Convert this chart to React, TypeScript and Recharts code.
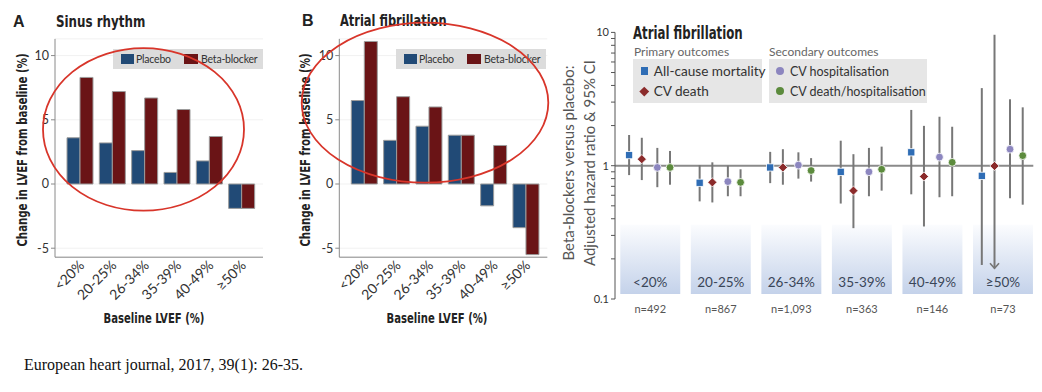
import React from 'react';
import {
  BarChart, Bar, XAxis, YAxis, CartesianGrid, Legend,
  ScatterChart, Scatter, ErrorBar, ReferenceArea, ReferenceLine,
} from 'recharts';

// ---------- data: LVEF change (panels A & B) ----------
const lvefCategories = ['<20%', '20-25%', '26-34%', '35-39%', '40-49%', '≥50%'];
const sinusPlacebo = [3.6, 3.2, 2.6, 0.9, 1.8, -1.9];
const sinusBeta = [8.3, 7.2, 6.7, 5.8, 3.7, -1.9];
const afPlacebo = [6.5, 3.4, 4.5, 3.8, -1.7, -3.4];
const afBeta = [11.1, 6.8, 6.0, 3.8, 3.0, -5.5];
const barTicks = [-5, 0, 5, 10];

// ---------- data: hazard ratios (panel C) ----------
const hrCategories = ['<20%', '20-25%', '26-34%', '35-39%', '40-49%', '≥50%'];
const nLabels = ['n=492', 'n=867', 'n=1,093', 'n=363', 'n=146', 'n=73'];
const allCauseHR = [1.2, 0.745, 0.97, 0.9, 1.26, 0.84];
const allCauseLo = [0.85, 0.54, 0.74, 0.52, 0.61, 0.18];
const allCauseHi = [1.7, 1.01, 1.27, 1.54, 2.62, 3.82];
const cvDeathHR = [1.12, 0.75, 0.97, 0.65, 0.83, 0.995];
const cvDeathLo = [0.78, 0.53, 0.72, 0.34, 0.35, 0.17];
const cvDeathHi = [1.62, 1.06, 1.33, 1.22, 1.99, 9.6];
const cvDeathArrow = [false, false, false, false, false, true];
const cvHospHR = [0.97, 0.76, 1.01, 0.9, 1.16, 1.33];
const cvHospLo = [0.69, 0.59, 0.8, 0.59, 0.58, 0.57];
const cvHospHi = [1.36, 1.0, 1.26, 1.36, 2.33, 3.15];
const cvDeathHospHR = [0.97, 0.75, 0.92, 0.94, 1.06, 1.19];
const cvDeathHospLo = [0.72, 0.59, 0.76, 0.65, 0.59, 0.51];
const cvDeathHospHi = [1.29, 0.94, 1.14, 1.39, 1.96, 2.74];
const hrMajorTicks = [0.1, 1, 10];
const hrMinorTicks = [0.2, 0.3, 0.4, 0.5, 0.6, 0.7, 0.8, 0.9, 2, 3, 4, 5, 6, 7, 8, 9];

// ---------- styles ----------
const SANS = "Lato, 'Open Sans', sans-serif";
const NARROW = "'Liberation Sans Narrow', 'DejaVu Sans Condensed', 'Arial Narrow', sans-serif";
const PLACEBO_COLOR = '#214a76';
const BETA_COLOR = '#6a1416';
const BAR_STROKE = '#9c9c9c';
const AXIS_COLOR = '#8a8a8a';
const LEGEND_BG = '#dcdcdc';
const SERIES_COLORS = ['#2f6db5', '#8b2b2b', '#8c86bf', '#5c8b3d'];
const DODGE = [-0.3, -0.12, 0.1, 0.28];

const RotTick = (props: any) => {
  const { x, y, payload } = props;
  const ax = x + 5;
  const ay = y + 1;
  return (
    <text x={ax} y={ay} transform={`rotate(-45 ${ax} ${ay})`} textAnchor="end"
      fontSize={14} fill="#333" fontFamily={SANS}>{payload.value}</text>
  );
};

const BarLegend = () => (
  <div style={{ position: 'relative', width: 150, height: 20, background: LEGEND_BG, fontFamily: SANS, fontSize: 10.5, letterSpacing: -0.2, color: '#333', whiteSpace: 'nowrap' }}>
    <div style={{ position: 'absolute', left: 7.5, top: 5, width: 13, height: 10, background: PLACEBO_COLOR }} />
    <div style={{ position: 'absolute', left: 23, top: 2, lineHeight: '16px' }}>Placebo</div>
    <div style={{ position: 'absolute', left: 71, top: 5, width: 14, height: 10, background: BETA_COLOR }} />
    <div style={{ position: 'absolute', left: 88, top: 2, lineHeight: '16px' }}>Beta-blocker</div>
  </div>
);

function LvefChart({ placebo, beta, left, width, marginLeft, legendLeft }: any) {
  const data = lvefCategories.map((c, i) => ({ cat: c, placebo: placebo[i], beta: beta[i] }));
  return (
    <div style={{ position: 'absolute', left, top: 0 }}>
      <BarChart width={width} height={340} data={data} barGap={0} barSize={13}
        margin={{ top: 38.9, right: width - marginLeft - 40 - 208, bottom: 22.8, left: marginLeft }}>
        <CartesianGrid vertical={false} stroke="#f1f1f1" />
        <XAxis dataKey="cat" height={60} interval={0} tick={<RotTick />} tickLine={false}
          axisLine={{ stroke: AXIS_COLOR }} padding={{ left: 9, right: 5 }} />
        <YAxis type="number" width={40} domain={[-5.7, 11.3]} ticks={barTicks} allowDataOverflow
          tickSize={4} tickMargin={2} axisLine={{ stroke: AXIS_COLOR }} tickLine={{ stroke: AXIS_COLOR }}
          tick={{ fontSize: 12.5, fill: '#333', fontFamily: SANS }} />
        <Legend layout="horizontal" verticalAlign="middle" align="center" content={<BarLegend />}
          wrapperStyle={{ left: legendLeft, top: 49, width: 150, height: 20 }} />
        <Bar dataKey="placebo" name="Placebo" fill={PLACEBO_COLOR} stroke={BAR_STROKE} strokeWidth={1} isAnimationActive={false} />
        <Bar dataKey="beta" name="Beta-blocker" fill={BETA_COLOR} stroke={BAR_STROKE} strokeWidth={1} isAnimationActive={false} />
      </BarChart>
    </div>
  );
}

// ---------- panel C helpers ----------
const SquareShape = (p: any) => (
  <rect x={p.cx - 3.6} y={p.cy - 3.6} width={7.2} height={7.2} fill={SERIES_COLORS[0]} stroke="#fff" strokeWidth={0.8} />
);
const DiamondShape = (p: any) => (
  <polygon points={`${p.cx},${p.cy - 4.6} ${p.cx + 4.6},${p.cy} ${p.cx},${p.cy + 4.6} ${p.cx - 4.6},${p.cy}`}
    fill={SERIES_COLORS[1]} stroke="#fff" strokeWidth={0.8} />
);
const PurpleShape = (p: any) => (
  <circle cx={p.cx} cy={p.cy} r={3.9} fill={SERIES_COLORS[2]} stroke="#fff" strokeWidth={0.8} />
);
const GreenShape = (p: any) => (
  <circle cx={p.cx} cy={p.cy} r={3.9} fill={SERIES_COLORS[3]} stroke="#fff" strokeWidth={0.8} />
);
const ArrowShape = (p: any) => (
  <polyline points={`${p.cx - 4.5},${p.cy - 5} ${p.cx},${p.cy} ${p.cx + 4.5},${p.cy - 5}`}
    fill="none" stroke="#777" strokeWidth={1.6} />
);

const LogTick = (props: any) => {
  const { x, y, payload } = props;
  if (!hrMajorTicks.includes(payload.value)) return <g />;
  return (
    <text x={x} y={y} dy={4} textAnchor="end" fontSize={11} fill="#333" fontFamily={SANS}>{payload.value}</text>
  );
};

const NTick = (props: any) => {
  const { x, y, payload } = props;
  return (
    <text x={x} y={y} dy={9} textAnchor="middle" fontSize={11} fill="#555" fontFamily={SANS}>{nLabels[payload.value]}</text>
  );
};

const legendItem = (left: number, top: number, marker: React.ReactNode, label: string, fontSize: number) => (
  <div style={{ position: 'absolute', left, top, height: 16, display: 'flex', alignItems: 'center', whiteSpace: 'nowrap', fontSize }}>
    {marker}
    <span style={{ marginLeft: 6 }}>{label}</span>
  </div>
);

const HrLegend = () => (
  <div style={{ position: 'relative', width: 300, height: 60, fontFamily: SANS, color: '#333', whiteSpace: 'nowrap' }}>
    <div style={{ position: 'absolute', left: 1, top: 0, fontSize: 12, color: '#666', lineHeight: '15px' }}>Primary outcomes</div>
    <div style={{ position: 'absolute', left: 136, top: 0, fontSize: 12, color: '#666', lineHeight: '15px' }}>Secondary outcomes</div>
    <div style={{ position: 'absolute', left: 0, top: 15.3, width: 129.4, height: 44, background: '#e6e6e6' }} />
    <div style={{ position: 'absolute', left: 135.7, top: 15.3, width: 158.7, height: 44, background: '#e6e6e6' }} />
    {legendItem(7.5, 19, <span style={{ display: 'inline-block', width: 7.3, height: 7.3, background: SERIES_COLORS[0] }} />, 'All-cause mortality', 13.6)}
    {legendItem(7, 39, <span style={{ display: 'inline-block', width: 6.5, height: 6.5, background: SERIES_COLORS[1], transform: 'rotate(45deg)', margin: '0 0.6px' }} />, 'CV death', 13.6)}
    {legendItem(143, 19, <span style={{ display: 'inline-block', width: 8, height: 8, borderRadius: 4, background: SERIES_COLORS[2] }} />, 'CV hospitalisation', 12.5)}
    {legendItem(143, 39, <span style={{ display: 'inline-block', width: 8, height: 8, borderRadius: 4, background: SERIES_COLORS[3] }} />, 'CV death/hospitalisation', 12.5)}
  </div>
);

function HrChart() {
  const build = (hr: number[], lo: number[], hi: number[], k: number) =>
    hrCategories.map((c, i) => ({ cat: c, x: i + DODGE[k], y: hr[i], err: [hr[i] - lo[i], hi[i] - hr[i]] }));
  const allCause = build(allCauseHR, allCauseLo, allCauseHi, 0);
  const cvDeath = build(cvDeathHR, cvDeathLo, cvDeathHi, 1);
  const cvHosp = build(cvHospHR, cvHospLo, cvHospHi, 2);
  const cvDeathHosp = build(cvDeathHospHR, cvDeathHospLo, cvDeathHospHi, 3);
  const arrows = hrCategories
    .map((c, i) => ({ x: i + DODGE[1], y: cvDeathLo[i], show: cvDeathArrow[i] }))
    .filter((d) => d.show);
  const BoxLabel = (i: number) => (props: any) => {
    const vb = props.viewBox;
    return (
      <text x={vb.x + vb.width / 2} y={vb.y + vb.height - 7} textAnchor="middle" fontSize={13.5}
        fill="#3a4658" fontFamily={SANS}>{hrCategories[i]}</text>
    );
  };
  return (
    <div style={{ position: 'absolute', left: 540, top: 0 }}>
      <ScatterChart width={502} height={340} margin={{ top: 32.4, right: 8.7, bottom: 11, left: 0 }}>
        <defs>
          <linearGradient id="hrGrad" x1="0" y1="0" x2="0" y2="1">
            <stop offset="0%" stopColor="#fbfcfe" />
            <stop offset="100%" stopColor="#c4d2ea" />
          </linearGradient>
        </defs>
        <XAxis type="number" dataKey="x" domain={[-0.5, 5.43]} ticks={[0, 1, 2, 3, 4, 5]} interval={0}
          allowDataOverflow axisLine={false} tickLine={false} tickSize={3} height={30} tick={<NTick />} />
        <YAxis type="number" dataKey="y" scale="log" domain={[0.1, 10]} allowDataOverflow width={75}
          ticks={[...hrMajorTicks, ...hrMinorTicks].sort((a, b) => a - b)} interval={0}
          tickSize={4} tickMargin={2} axisLine={{ stroke: '#555' }} tickLine={{ stroke: '#555' }} tick={<LogTick />} />
        {hrCategories.map((c, i) => (
          <ReferenceArea key={c} x1={i - 0.425} x2={i + 0.425} y1={0.109} y2={0.36}
            fill="url(#hrGrad)" fillOpacity={1} stroke="none" label={BoxLabel(i)} />
        ))}
        <ReferenceLine y={1} stroke="#8a8a8a" strokeWidth={2} />
        <Legend layout="horizontal" verticalAlign="middle" align="center" content={<HrLegend />}
          wrapperStyle={{ left: 93, top: 44, width: 300, height: 60 }} />
        <Scatter name="All-cause mortality" data={allCause} shape={<SquareShape />} isAnimationActive={false}>
          <ErrorBar dataKey="err" direction="y" width={0} stroke="#777" strokeWidth={2} />
        </Scatter>
        <Scatter name="CV death" data={cvDeath} shape={<DiamondShape />} isAnimationActive={false}>
          <ErrorBar dataKey="err" direction="y" width={0} stroke="#777" strokeWidth={2} />
        </Scatter>
        <Scatter name="CV hospitalisation" data={cvHosp} shape={<PurpleShape />} isAnimationActive={false}>
          <ErrorBar dataKey="err" direction="y" width={0} stroke="#777" strokeWidth={2} />
        </Scatter>
        <Scatter name="CV death/hospitalisation" data={cvDeathHosp} shape={<GreenShape />} isAnimationActive={false}>
          <ErrorBar dataKey="err" direction="y" width={0} stroke="#777" strokeWidth={2} />
        </Scatter>
        <Scatter name="CI beyond axis" data={arrows} shape={<ArrowShape />} isAnimationActive={false} legendType="none" />
      </ScatterChart>
    </div>
  );
}

const BOLD_ARIAL = "'Liberation Sans', Arial, sans-serif";

export default function App() {
  return (
    <div style={{ position: 'relative', width: 1042, height: 392, background: '#fff', overflow: 'hidden' }}>
      <style>{'body{margin:0}'}</style>
      <LvefChart placebo={sinusPlacebo} beta={sinusBeta} left={0} width={280} marginLeft={15} legendLeft={113} />
      <LvefChart placebo={afPlacebo} beta={afBeta} left={290} width={270} marginLeft={9.3} legendLeft={106} />
      <HrChart />
      <svg width={1042} height={392} style={{ position: 'absolute', left: 0, top: 0, pointerEvents: 'none' }}>
        {/* Panel A texts */}
        <text x={13} y={27} fontSize={16} fontWeight="bold" fontFamily={BOLD_ARIAL} fill="#222">A</text>
        <text transform="translate(56,27) scale(0.8,1)" fontSize={16.5} fontWeight="bold" fontFamily={NARROW} fill="#222">Sinus rhythm</text>
        <text transform="translate(22,150) rotate(-90) scale(0.84,1)" textAnchor="middle" dominantBaseline="central"
          fontSize={13.5} fontWeight="bold" fontFamily={NARROW} fill="#222">Change in LVEF from baseline (%)</text>
        <text transform="translate(154,323) scale(0.8,1)" textAnchor="middle" fontSize={14} fontWeight="bold" fontFamily={NARROW} fill="#222">Baseline LVEF (%)</text>
        {/* Panel B texts */}
        <text x={302} y={26} fontSize={16} fontWeight="bold" fontFamily={BOLD_ARIAL} fill="#222">B</text>
        <text transform="translate(340,26) scale(0.77,1)" fontSize={16.5} fontWeight="bold" fontFamily={NARROW} fill="#222">Atrial fibrillation</text>
        <text transform="translate(305,150) rotate(-90) scale(0.84,1)" textAnchor="middle" dominantBaseline="central"
          fontSize={13.5} fontWeight="bold" fontFamily={NARROW} fill="#222">Change in LVEF from baseline (%)</text>
        <text transform="translate(437,323) scale(0.8,1)" textAnchor="middle" fontSize={14} fontWeight="bold" fontFamily={NARROW} fill="#222">Baseline LVEF (%)</text>
        {/* Panel C texts */}
        <text transform="translate(633,39) scale(0.77,1)" fontSize={17} fontWeight="bold" fontFamily={NARROW} fill="#222">Atrial fibrillation</text>
        <text transform="translate(568,163) rotate(-90)" textAnchor="middle" dominantBaseline="central"
          fontSize={15} fontFamily={SANS} fill="#555">Beta-blockers versus placebo:</text>
        <text transform="translate(589,163) rotate(-90)" textAnchor="middle" dominantBaseline="central"
          fontSize={15} fontFamily={SANS} fill="#555">Adjusted hazard ratio &amp; 95% CI</text>
        {/* annotation ellipses */}
        <ellipse cx={143.5} cy={129.4} rx={100.5} ry={81.3} fill="none" stroke="#d8352a" strokeWidth={1.8} />
        <ellipse cx={425} cy={102.7} rx={123.3} ry={80} fill="none" stroke="#d8352a" strokeWidth={1.8} />
        {/* caption */}
        <text x={24} y={370} fontSize={16} fontFamily="'Liberation Serif', 'Times New Roman', serif" fill="#111">European heart journal, 2017, 39(1): 26-35.</text>
      </svg>
    </div>
  );
}
